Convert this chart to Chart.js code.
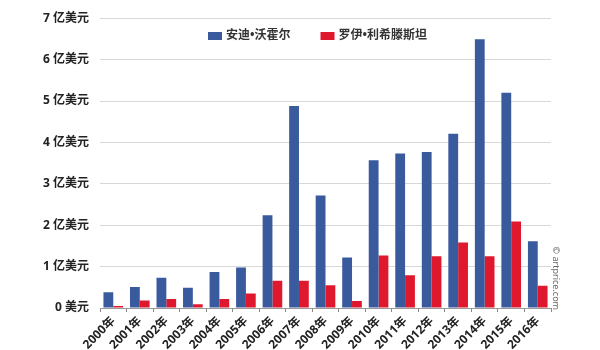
<!DOCTYPE html>
<html>
<head>
<meta charset="utf-8">
<script src="https://cdn.jsdelivr.net/npm/chart.js@4.4.1/dist/chart.umd.min.js"></script>
<style>
html,body{margin:0;padding:0;background:#fff;}
#wrap{width:600px;height:350px;position:relative;}
</style>
</head>
<body>
<div id="wrap"><canvas id="c"></canvas></div>
<script>
const categories = ["2000年","2001年","2002年","2003年","2004年","2005年","2006年","2007年","2008年","2009年","2010年","2011年","2012年","2013年","2014年","2015年","2016年"];
const warholValues = [0.38,0.51,0.73,0.49,0.87,0.98,2.24,4.88,2.72,1.22,3.57,3.73,3.77,4.21,6.49,5.20,1.61];
const lichtensteinValues = [0.05,0.18,0.22,0.09,0.22,0.35,0.66,0.66,0.55,0.17,1.27,0.79,1.25,1.58,1.25,2.09,0.54];
const seriesNames = ["安迪•沃霍尔","罗伊•利希滕斯坦"];
const yTicks = [0,1,2,3,4,5,6,7];
const watermark = "© artprice.com";

const font = "'Noto Sans', 'Noto Sans CJK SC', sans-serif";

const overlayPlugin = {
  id: 'overlay',
  afterDraw(chart) {
    const ctx = chart.ctx;
    const a = chart.chartArea;
    // legend drawn over the plot area
    ctx.save();
    ctx.font = "bold 12px " + font;
    ctx.textBaseline = "middle";
    ctx.textAlign = "left";
    let x = a.left + 108;
    const y = 36;
    chart.data.datasets.forEach((ds) => {
      ctx.fillStyle = ds.backgroundColor;
      ctx.fillRect(x, y - 4, 14, 8);
      ctx.fillStyle = '#333';
      ctx.fillText(ds.label, x + 18, y);
      x += 18 + ctx.measureText(ds.label).width + 30;
    });
    ctx.restore();
    // watermark
    ctx.save();
    ctx.translate(a.right + 5, a.bottom + 2);
    ctx.rotate(Math.PI / 2);
    ctx.font = "9px " + font;
    ctx.fillStyle = "#666";
    ctx.textAlign = "right";
    ctx.textBaseline = "middle";
    ctx.fillText(watermark, 0, 0);
    ctx.restore();
  }
};

new Chart(document.getElementById('c'), {
  type: 'bar',
  data: {
    labels: categories,
    datasets: [
      { label: seriesNames[0], data: warholValues, backgroundColor: '#3a5a9e', borderWidth: 0 },
      { label: seriesNames[1], data: lichtensteinValues, backgroundColor: '#e0182e', borderWidth: 0 }
    ]
  },
  options: {
    responsive: true,
    maintainAspectRatio: false,
    animation: false,
    devicePixelRatio: 1,
    layout: { padding: { left: 0, right: 49, top: 10, bottom: 0 } },
    datasets: { bar: { categoryPercentage: 0.74, barPercentage: 1.0 } },
    plugins: {
      legend: { display: false },
      tooltip: { enabled: false }
    },
    scales: {
      x: {
        grid: { display: true, drawOnChartArea: false, drawTicks: true, tickLength: 4, color: '#888', offset: true },
        border: { display: true, color: '#999', width: 1 },
        ticks: {
          minRotation: 45, maxRotation: 45, autoSkip: false, padding: 2,
          color: '#222',
          font: { family: font, size: 12, weight: 'bold' }
        },
        afterFit(scale) { scale.height = 42; }
      },
      y: {
        min: 0, max: 7,
        afterBuildTicks(scale) { scale.ticks = yTicks.map(v => ({ value: v })); },
        grid: { color: '#d8d8d8', drawTicks: false, lineWidth: 1 },
        border: { display: false },
        ticks: {
          padding: 11,
          color: '#222',
          font: { family: font, size: 12, weight: 'bold' },
          callback: (v) => v === 0 ? '0 美元' : v + ' 亿美元'
        },
        afterFit(scale) { scale.width = 100; }
      }
    }
  },
  plugins: [overlayPlugin]
});
</script>
</body>
</html>
